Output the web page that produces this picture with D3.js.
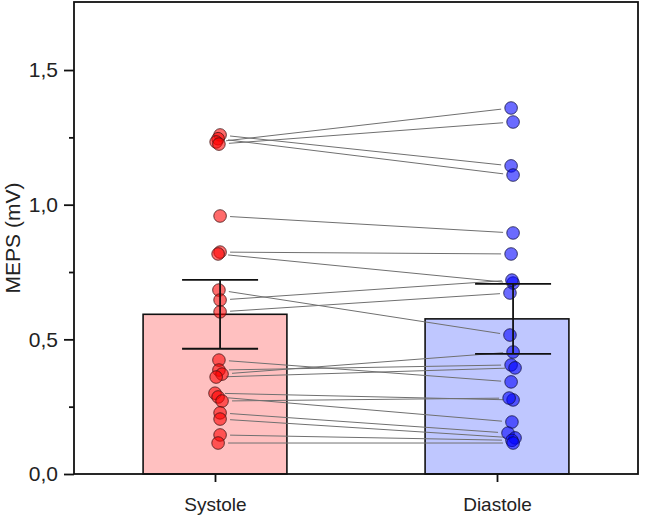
<!DOCTYPE html>
<html>
<head>
<meta charset="utf-8">
<script src="https://cdn.jsdelivr.net/npm/d3@7"></script>
<style>
  html, body { margin: 0; padding: 0; background: #fff; }
  svg { display: block; }
  text { font-family: "Liberation Sans", Arial, sans-serif; fill: #222; }
</style>
</head>
<body>
<svg id="chart" width="664" height="518"></svg>
<script>
// ---------- data ----------
const categories = ["Systole", "Diastole"];
const categoryPos = [1, 2];
const barMeans = [0.593, 0.576];
const barSEM = [0.128, 0.130];
const errPos = [1.018, 2.057];

// paired individual values (same index = same subject)
const systoleVals = [1.259, 1.245, 1.233, 1.225, 0.958, 0.824, 0.817, 0.683, 0.646, 0.602,
                     0.423, 0.386, 0.371, 0.360, 0.300, 0.286, 0.271, 0.227, 0.204, 0.145, 0.115];
const diastoleVals = [1.144, 1.110, 1.359, 1.307, 0.895, 0.817, 0.709, 0.516, 0.720, 0.672,
                      0.342, 0.405, 0.453, 0.394, 0.275, 0.193, 0.282, 0.152, 0.134, 0.125, 0.115];
// horizontal jitter of the points (axis units)
const systoleX = [1.018, 1.011, 1.004, 1.014, 1.018, 1.018, 1.011, 1.014, 1.018, 1.018,
                  1.014, 1.014, 1.025, 1.004, 1.000, 1.011, 1.025, 1.018, 1.018, 1.018, 1.011];
const diastoleX = [2.050, 2.057, 2.050, 2.057, 2.057, 2.050, 2.057, 2.046, 2.053, 2.046,
                   2.050, 2.050, 2.057, 2.064, 2.057, 2.053, 2.043, 2.039, 2.064, 2.053, 2.057];

const yTicks = [0, 0.5, 1.0, 1.5];
const yMinorTicks = [0.25, 0.75, 1.25];
const yLabel = "MEPS (mV)";

// ---------- layout ----------
const L = 74, R = 638, T = 2.7, B = 474;
const svg = d3.select("#chart");

const x = d3.scaleLinear().domain([0.5, 2.5]).range([L, R]);
const y = d3.scaleLinear().domain([0, 1.75]).range([B, T]);
const barW = 0.51;

const barFill = ["#ffc0c0", "#bfc7ff"];
const ptFill = ["#ff0000", "#0000ff"];
const ptStroke = ["#3a1010", "#10103a"];

// bars
svg.append("g").selectAll("rect")
  .data(barMeans)
  .join("rect")
  .attr("x", (d, i) => x(categoryPos[i] - barW / 2))
  .attr("width", (d, i) => x(categoryPos[i] + barW / 2) - x(categoryPos[i] - barW / 2))
  .attr("y", d => y(d))
  .attr("height", d => y(0) - y(d))
  .attr("fill", (d, i) => barFill[i])
  .attr("stroke", "#111")
  .attr("stroke-width", 1.6);

// connecting lines (shortened near the points)
const gap = 10;
svg.append("g").selectAll("line")
  .data(systoleVals.map((v, i) => ({ x1: x(systoleX[i]), y1: y(v), x2: x(diastoleX[i]), y2: y(diastoleVals[i]) })))
  .join("line")
  .each(function (d) {
    const dx = d.x2 - d.x1, dy = d.y2 - d.y1, len = Math.hypot(dx, dy);
    const ux = dx / len, uy = dy / len;
    d3.select(this)
      .attr("x1", d.x1 + ux * gap).attr("y1", d.y1 + uy * gap)
      .attr("x2", d.x2 - ux * gap).attr("y2", d.y2 - uy * gap);
  })
  .attr("stroke", "#707070")
  .attr("stroke-width", 1);

// points
const groups = [
  { vals: systoleVals, xs: systoleX, k: 0 },
  { vals: diastoleVals, xs: diastoleX, k: 1 }
];
groups.forEach(g => {
  svg.append("g").selectAll("circle")
    .data(g.vals)
    .join("circle")
    .attr("cx", (d, i) => x(g.xs[i]))
    .attr("cy", d => y(d))
    .attr("r", 6.3)
    .attr("fill", ptFill[g.k])
    .attr("fill-opacity", 0.58)
    .attr("stroke", ptStroke[g.k])
    .attr("stroke-opacity", 0.75)
    .attr("stroke-width", 1);
});

// error bars
const capHalf = 38;
const eg = svg.append("g").attr("stroke", "#111").attr("stroke-width", 1.8);
barMeans.forEach((m, i) => {
  const cx = x(errPos[i]);
  eg.append("line").attr("x1", cx).attr("x2", cx).attr("y1", y(m + barSEM[i])).attr("y2", y(m - barSEM[i]));
  eg.append("line").attr("x1", cx - capHalf).attr("x2", cx + capHalf).attr("y1", y(m + barSEM[i])).attr("y2", y(m + barSEM[i]));
  eg.append("line").attr("x1", cx - capHalf).attr("x2", cx + capHalf).attr("y1", y(m - barSEM[i])).attr("y2", y(m - barSEM[i]));
});

// frame
svg.append("rect")
  .attr("x", L).attr("y", T - 0.7)
  .attr("width", R - L).attr("height", B - T + 0.7)
  .attr("fill", "none").attr("stroke", "#111").attr("stroke-width", 1.8);

// y axis (major)
const fmt = d => d3.format(".1f")(d).replace(".", ",");
const yAx = svg.append("g").attr("transform", `translate(${L},0)`)
  .call(d3.axisLeft(y).tickValues(yTicks).tickSize(10).tickPadding(6).tickFormat(fmt));
yAx.select(".domain").remove();
yAx.selectAll(".tick line").attr("stroke", "#111").attr("stroke-width", 1.8);
yAx.selectAll("text").style("font-size", "21px").attr("fill", "#222");

// y axis (minor)
const yMin = svg.append("g").attr("transform", `translate(${L},0)`)
  .call(d3.axisLeft(y).tickValues(yMinorTicks).tickSize(5).tickFormat(""));
yMin.select(".domain").remove();
yMin.selectAll(".tick line").attr("stroke", "#111").attr("stroke-width", 1.8);

// x axis
const xAx = svg.append("g").attr("transform", `translate(0,${B})`)
  .call(d3.axisBottom(x).tickValues(categoryPos).tickSize(8).tickPadding(16)
    .tickFormat((d, i) => categories[i]));
xAx.select(".domain").remove();
xAx.selectAll(".tick line").attr("stroke", "#111").attr("stroke-width", 1.8);
xAx.selectAll("text").style("font-size", "19px").attr("fill", "#222");

// y label
svg.append("text")
  .attr("transform", `translate(20,238) rotate(-90)`)
  .attr("text-anchor", "middle")
  .style("font-size", "21px")
  .text(yLabel);
</script>
</body>
</html>
